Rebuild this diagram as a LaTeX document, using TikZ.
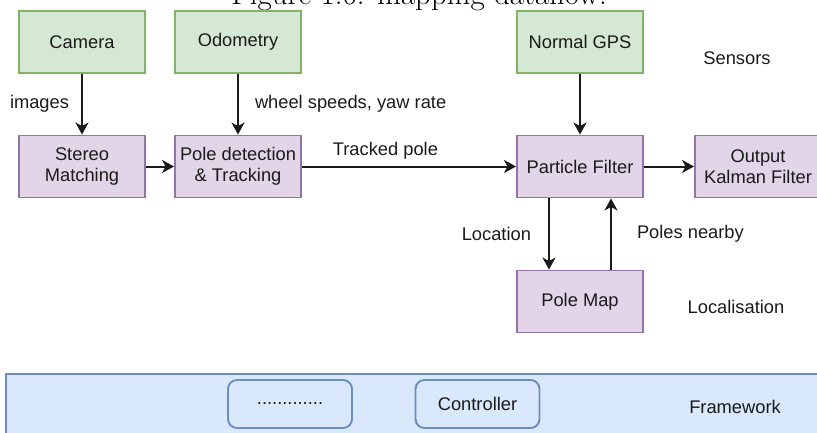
\documentclass[tikz,border=0pt]{standalone}
\usepackage{fontspec}
\newfontfamily\drawfont{Liberation Sans}
\usetikzlibrary{arrows.meta}
\definecolor{sensfill}{HTML}{D5E8D4}
\definecolor{sensline}{HTML}{82B366}
\definecolor{procfill}{HTML}{E1D5E7}
\definecolor{procline}{HTML}{9673A6}
\definecolor{fwfill}{HTML}{DAE8FC}
\definecolor{fwline}{HTML}{6C8EBF}
\definecolor{ink}{HTML}{1A1A1A}
\tikzset{
  lbl/.style={font=\drawfont\fontsize{18.3}{21}\selectfont, text=ink, inner sep=0pt},
  blk/.style={lbl, draw, line width=1.9pt, minimum width=126pt, minimum height=62pt, align=center},
  sensor/.style={blk, fill=sensfill, draw=sensline},
  proc/.style={blk, fill=procfill, draw=procline},
  fwbar/.style={draw=fwline, fill=fwfill, line width=1.9pt},
  fwbox/.style={lbl, draw=fwline, fill=fwfill, line width=1.9pt, rounded corners=9pt, minimum width=124pt, minimum height=48pt},
  arr/.style={draw=ink, line width=2pt, -{Stealth[length=12pt, width=13pt, inset=3.5pt]}}
}
\begin{document}
\begin{tikzpicture}[x=1pt, y=-1pt]
\useasboundingbox (0,0) rectangle (817,432);

% caption, partly above the page
\node[anchor=base, inner sep=0pt, font=\fontsize{31}{32}\selectfont] (cap) at (419,4) {Figure 1.6: mapping dataflow.};

% sensors
\node[sensor] (cam) at (82,42) {Camera};
\node[sensor] (odo) at (238,42) {Odometry};
\node[sensor] (gps) at (580,42) {Normal GPS};

% processing chain
\node[proc] (stereo) at (82,166.5) {Stereo\\Matching};
\node[proc] (pole) at (238,166.5) {Pole detection\\\& Tracking};
\node[proc] (pf) at (580,166.5) {Particle Filter};
\node[proc] (kf) at (758,166.5) {Output\\Kalman Filter};
\node[proc] (pm) at (580,301.5) {Pole Map};

% framework layer
\node[fwbar, anchor=north west, minimum width=830pt, minimum height=80pt, inner sep=0pt] (fw) at (5,373) {};
\node[fwbox] (dots) at (290,404) {.............};
\node[fwbox] (ctrl) at (477.5,404) {Controller};
\node[lbl] (fwl) at (735,407) {Framework};

% group labels
\node[lbl] (sens) at (737,58) {Sensors};
\node[lbl] (loc) at (736,307) {Localisation};

% data flow
\draw[arr] (cam) -- node[lbl, left=12pt] (lim) {images} (stereo);
\draw[arr] (odo) -- node[lbl, right=16pt] (lws) {wheel speeds, yaw rate} (pole);
\draw[arr] (stereo) -- (pole);
\draw[arr] (pole) -- node[lbl, above=6pt, pos=0.39] (ltp) {Tracked pole} (pf);
\draw[arr] (gps) -- (pf);
\draw[arr] (pf) -- (kf);
\draw[arr] ([xshift=-31pt]pf.south) -- node[lbl, left=17pt] (lloc) {Location} ([xshift=-31pt]pm.north);
\draw[arr] ([xshift=31pt]pm.north) -- node[lbl, right=25pt] (lpn) {Poles nearby} ([xshift=31pt]pf.south);
\end{tikzpicture}
\end{document}
